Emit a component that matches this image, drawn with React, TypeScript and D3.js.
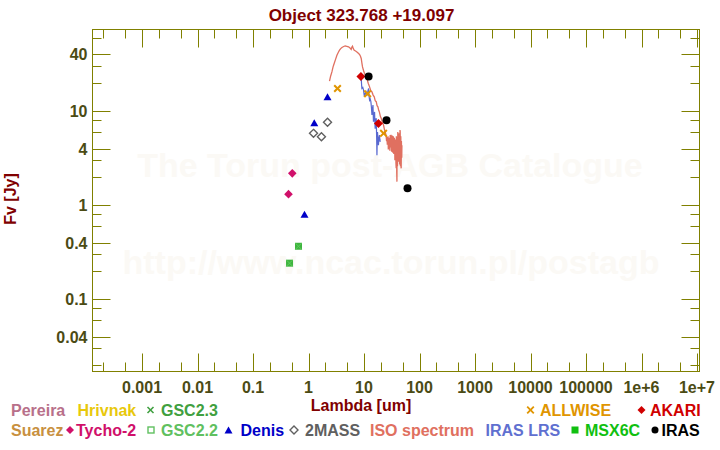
import React from "react";
import * as d3 from "d3";

// ---------- data (wavelength in micron, flux in Jy) ----------
const tycho2: [number, number][] = [[0.436, 1.31], [0.51, 2.18]];
const denis: [number, number][] = [[0.847, 0.8], [1.27, 7.5], [2.2, 14.2]];
const twoMass: [number, number][] = [[1.23, 5.8], [1.71, 5.34], [2.2, 7.6]];
const gsc22: [number, number][] = [[0.455, 0.242], [0.66, 0.366]];
const gsc23: [number, number][] = [[0.455, 0.242], [0.66, 0.366]];
const allwise: [number, number][] = [[3.33, 17.4], [11.6, 15.3], [22.5, 5.8]];
const akari: [number, number][] = [[8.8, 23.4], [18.2, 7.4]];
const iras: [number, number][] = [[12.1, 23.4], [25.4, 8.0], [60.8, 1.51]];

const isoSpectrum: [number, number][] = [
  [2.39, 20.8], [2.5, 23.5], [2.64, 26.1], [2.77, 29.5], [2.9, 32.1], [3.07, 35.5], [3.25, 39.3],
  [3.45, 42.3], [3.62, 44.4], [3.8, 46.2], [4.0, 47.5], [4.3, 48.6], [4.58, 49.3], [4.9, 48.9],
  [5.26, 48.2], [5.6, 46.8], [5.88, 45.2], [6.05, 48.0], [6.21, 49.0], [6.4, 46.2], [6.66, 44.4],
  [7.05, 43.6], [7.45, 42.6], [7.9, 41.3], [8.29, 40.0], [8.6, 38.5], [8.91, 36.3], [9.15, 32.5],
  [9.4, 29.5], [9.8, 27.0], [10.2, 25.1], [10.7, 23.6], [11.3, 22.2], [11.9, 19.8], [12.6, 18.1],
  [13.2, 16.6], [13.9, 16.0], [14.6, 14.8], [15.3, 14.2], [15.9, 12.9], [16.6, 12.6], [17.2, 11.4],
  [17.8, 11.1], [18.4, 10.2], [19.0, 9.7], [19.7, 8.8], [20.4, 8.4], [21.4, 7.6], [22.5, 7.1],
  [23.3, 6.4], [24.1, 6.0], [25.0, 5.5], [25.5, 4.8], [25.9, 5.3], [26.3, 4.4], [26.6, 4.6],
  [27.1, 5.4], [27.4, 3.9], [27.6, 4.35], [28.2, 5.2], [28.5, 4.0], [28.9, 4.5], [29.2, 3.8],
  [29.6, 5.56], [30.0, 4.1], [30.3, 4.4], [30.7, 5.6], [31.0, 5.0], [31.4, 3.7], [31.8, 4.02],
  [32.2, 5.5], [32.6, 5.3], [33.0, 3.6], [33.3, 4.3], [33.7, 5.4], [34.0, 5.13], [34.4, 3.5],
  [34.8, 3.9], [35.2, 5.2], [35.6, 4.8], [36.0, 3.0], [36.5, 3.41], [36.9, 5.0], [37.2, 4.6],
  [37.6, 2.8], [38.0, 2.47], [38.3, 5.4], [38.6, 4.9], [38.9, 2.2], [39.2, 1.78], [39.5, 5.0],
  [39.8, 4.2], [40.1, 2.6], [40.3, 3.1], [40.6, 6.0], [40.8, 5.56], [41.2, 2.9], [41.6, 3.6],
  [42.0, 5.6], [42.6, 2.9], [43.0, 5.8], [43.4, 5.2], [43.8, 2.7], [44.1, 3.3], [44.5, 6.3],
  [44.9, 6.03], [45.3, 2.6], [45.6, 3.0], [46.0, 5.4], [46.2, 4.6], [46.5, 2.5], [46.8, 2.47],
  [47.2, 4.8], [47.5, 4.0], [47.9, 3.2], [48.2, 4.35],
];

const irasLrs: [number, number][] = [
  [8.91, 22.2], [9.05, 19.0], [9.16, 17.4], [9.5, 17.8], [9.8, 16.7], [10.0, 15.2], [10.2, 14.2],
  [10.5, 15.5], [10.8, 16.0], [11.0, 15.0], [11.3, 14.8], [11.7, 16.2], [12.1, 17.4], [12.3, 14.6],
  [12.6, 13.1], [12.9, 13.5], [13.3, 12.6], [13.6, 11.0], [13.9, 9.1], [14.2, 10.6], [14.5, 11.6],
  [14.8, 7.7], [15.1, 9.0], [15.5, 9.8], [15.7, 7.6], [15.9, 6.5], [16.2, 7.9], [16.6, 8.4],
  [16.9, 5.2], [17.1, 3.4], [17.3, 5.0], [17.5, 6.0], [17.9, 4.9], [18.2, 4.35], [18.6, 5.2],
  [19.0, 5.56], [19.3, 5.0], [19.6, 4.72],
];

const xTickLabels = ["0.001", "0.01", "0.1", "1", "10", "100", "1000", "10000", "100000", "1e+6", "1e+7"];
const xTickValues = [1e-3, 1e-2, 1e-1, 1, 10, 100, 1e3, 1e4, 1e5, 1e6, 1e7];
const yTickLabels = ["0.04", "0.1", "0.4", "1", "4", "10", "40"];
const yTickValues = [0.04, 0.1, 0.4, 1, 4, 10, 40];
const yMinorValues = [0.02, 0.03, 0.06, 0.08, 0.2, 0.3, 0.6, 0.8, 2, 3, 6, 8, 20, 30, 60];

// ---------- layout ----------
const W = 720, H = 450;
const L = 92.5, R = 699.5, T = 29.5, B = 371.5;
const OLIVE = "#808000";
const TICKTXT = "#4b4b14";
const DARKRED = "#800000";
const FONT = "'Liberation Sans', Arial, sans-serif";

const x = d3.scaleLog().domain([1.282e-4, 1.109e7]).range([L, R]);
const y = d3.scaleLog().domain([0.01707, 73.7]).range([B, T]);

const xMinor: number[] = [];
for (let e = -4; e <= 6; e++) {
  [2, 5].forEach((m) => xMinor.push(m * Math.pow(10, e)));
}

function diamondPts(cx: number, cy: number, r: number) {
  return `${cx},${cy - r} ${cx + r},${cy} ${cx},${cy + r} ${cx - r},${cy}`;
}
function triPts(cx: number, cy: number, w: number, h: number) {
  return `${cx},${cy - h / 2} ${cx + w / 2},${cy + h / 2} ${cx - w / 2},${cy + h / 2}`;
}
function Cross({ cx, cy, r, color, sw }: { cx: number; cy: number; r: number; color: string; sw: number }) {
  return (
    <g stroke={color} strokeWidth={sw}>
      <line x1={cx - r} y1={cy - r} x2={cx + r} y2={cy + r} />
      <line x1={cx - r} y1={cy + r} x2={cx + r} y2={cy - r} />
    </g>
  );
}

const line = d3
  .line<[number, number]>()
  .x((d) => x(d[0]))
  .y((d) => y(d[1]));

export default function App() {
  const inX = (v: number) => v >= x.domain()[0] && v <= x.domain()[1];
  const inY = (v: number) => v >= y.domain()[0] && v <= y.domain()[1];
  return (
    <svg
      width={W}
      height={H}
      style={{ position: "absolute", left: 0, top: 0, background: "#fff" }}
      fontFamily={FONT}
    >
      <rect x={0} y={0} width={W} height={H} fill="#fff" />
      {/* watermark */}
      <text x={390} y={177} textAnchor="middle" fontSize={34} fontWeight="bold" fill="#fbf9f5">
        The Torun post-AGB Catalogue
      </text>
      <text x={391} y={274} textAnchor="middle" fontSize={34} fontWeight="bold" fill="#fbf9f5">
        http://www.ncac.torun.pl/postagb
      </text>

      {/* title */}
      <text x={361.5} y={20.5} textAnchor="middle" fontSize={17} fontWeight="bold" fill={DARKRED}>
        Object 323.768 +19.097
      </text>

      {/* frame */}
      <rect x={L} y={T} width={R - L} height={B - T} fill="none" stroke={OLIVE} strokeWidth={1} />

      {/* ticks */}
      <g stroke={OLIVE} strokeWidth={1}>
        {xTickValues.filter(inX).map((v) => {
          const px = Math.round(x(v)) + 0.5;
          return (
            <g key={"xM" + v}>
              <line x1={px} x2={px} y1={B} y2={B - 18} />
              <line x1={px} x2={px} y1={T} y2={T + 18} />
            </g>
          );
        })}
        {xMinor.filter(inX).map((v) => {
          const px = Math.round(x(v)) + 0.5;
          return (
            <g key={"xm" + v}>
              <line x1={px} x2={px} y1={B} y2={B - 9} />
              <line x1={px} x2={px} y1={T} y2={T + 9} />
            </g>
          );
        })}
        {yTickValues.filter(inY).map((v) => {
          const py = Math.round(y(v)) + 0.5;
          return (
            <g key={"yM" + v}>
              <line x1={L} x2={L + 18} y1={py} y2={py} />
              <line x1={R} x2={R - 18} y1={py} y2={py} />
            </g>
          );
        })}
        {yMinorValues.filter(inY).map((v) => {
          const py = Math.round(y(v)) + 0.5;
          return (
            <g key={"ym" + v}>
              <line x1={L} x2={L + 9} y1={py} y2={py} />
              <line x1={R} x2={R - 9} y1={py} y2={py} />
            </g>
          );
        })}
      </g>

      {/* tick labels */}
      <g fontSize={16} fontWeight="bold" fill={TICKTXT}>
        {xTickValues.map((v, i) => (
          <text key={"xl" + v} x={x(v)} y={392.5} textAnchor="middle">
            {xTickLabels[i]}
          </text>
        ))}
        {yTickValues.map((v, i) => (
          <text key={"yl" + v} x={87.5} y={y(v) + 6} textAnchor="end">
            {yTickLabels[i]}
          </text>
        ))}
      </g>

      {/* axis titles */}
      <text x={361} y={411} textAnchor="middle" fontSize={16} fontWeight="bold" fill={DARKRED}>
        Lambda [um]
      </text>
      <text
        transform="translate(15.5,199) rotate(-90)"
        textAnchor="middle"
        fontSize={16}
        fontWeight="bold"
        fill={DARKRED}
      >
        Fv [Jy]
      </text>

      {/* spectra */}
      <path d={line(isoSpectrum) || ""} fill="none" stroke="#e07060" strokeWidth={1.3} />
      <path d={line(irasLrs) || ""} fill="none" stroke="#5868d0" strokeWidth={1.2} />

      {/* photometry */}
      {gsc22.map((d, i) => (
        <rect key={"g22" + i} x={x(d[0]) - 3.5} y={y(d[1]) - 3.5} width={7} height={7} fill="#3fb43f" />
      ))}
      {gsc23.map((d, i) => (
        <Cross key={"g23" + i} cx={x(d[0])} cy={y(d[1])} r={3} color="#5ccc5c" sw={1} />
      ))}
      {tycho2.map((d, i) => (
        <polygon key={"ty" + i} points={diamondPts(x(d[0]), y(d[1]), 4.3)} fill="#d0106a" />
      ))}
      {denis.map((d, i) => (
        <polygon key={"de" + i} points={triPts(x(d[0]), y(d[1]), 8, 7)} fill="#0000c8" />
      ))}
      {twoMass.map((d, i) => (
        <polygon
          key={"tm" + i}
          points={diamondPts(x(d[0]), y(d[1]), 4)}
          fill="none"
          stroke="#606060"
          strokeWidth={1.4}
        />
      ))}
      {allwise.map((d, i) => (
        <Cross key={"aw" + i} cx={x(d[0])} cy={y(d[1])} r={3.3} color="#e09500" sw={2} />
      ))}
      {akari.map((d, i) => (
        <polygon key={"ak" + i} points={diamondPts(x(d[0]), y(d[1]), 4.5)} fill="#d00000" />
      ))}
      {iras.map((d, i) => (
        <circle key={"ir" + i} cx={x(d[0])} cy={y(d[1])} r={4} fill="#000" />
      ))}

      {/* legend */}
      <g fontSize={16} fontWeight="bold">
        <text x={11} y={415.5} fill="#b8708a">Pereira</text>
        <text x={77.5} y={415.5} fill="#e8c80c">Hrivnak</text>
        <Cross cx={150.5} cy={410} r={3} color="#40a040" sw={1.6} />
        <text x={161} y={415.5} fill="#40a040">GSC2.3</text>
        <Cross cx={530.5} cy={410} r={3.3} color="#e09500" sw={1.8} />
        <text x={540} y={415.5} fill="#e09500">ALLWISE</text>
        <polygon points={diamondPts(641.5, 410, 4)} fill="#d00000" />
        <text x={650} y={415.5} fill="#d00000">AKARI</text>

        <text x={11} y={435.5} fill="#c89040">Suarez</text>
        <polygon points={diamondPts(70, 430, 4)} fill="#d0106a" />
        <text x={76} y={435.5} fill="#d0106a">Tycho-2</text>
        <rect x={148} y={427} width={6} height={6} fill="none" stroke="#60c060" strokeWidth={1.4} />
        <text x={161} y={435.5} fill="#60c060">GSC2.2</text>
        <polygon points={triPts(228.5, 430, 8, 7)} fill="#0000c8" />
        <text x={240.5} y={435.5} fill="#0000c8">Denis</text>
        <polygon points={diamondPts(294, 430, 4)} fill="none" stroke="#606060" strokeWidth={1.4} />
        <text x={305} y={435.5} fill="#606060">2MASS</text>
        <text x={370} y={435.5} fill="#e07060">ISO spectrum</text>
        <text x={485.5} y={435.5} fill="#6070d0">IRAS LRS</text>
        <rect x={571.5} y={426.5} width={7} height={7} fill="#10c010" />
        <text x={585} y={435.5} fill="#10c010">MSX6C</text>
        <circle cx={655} cy={430} r={3.5} fill="#000" />
        <text x={661.5} y={435.5} fill="#000">IRAS</text>
      </g>
    </svg>
  );
}
